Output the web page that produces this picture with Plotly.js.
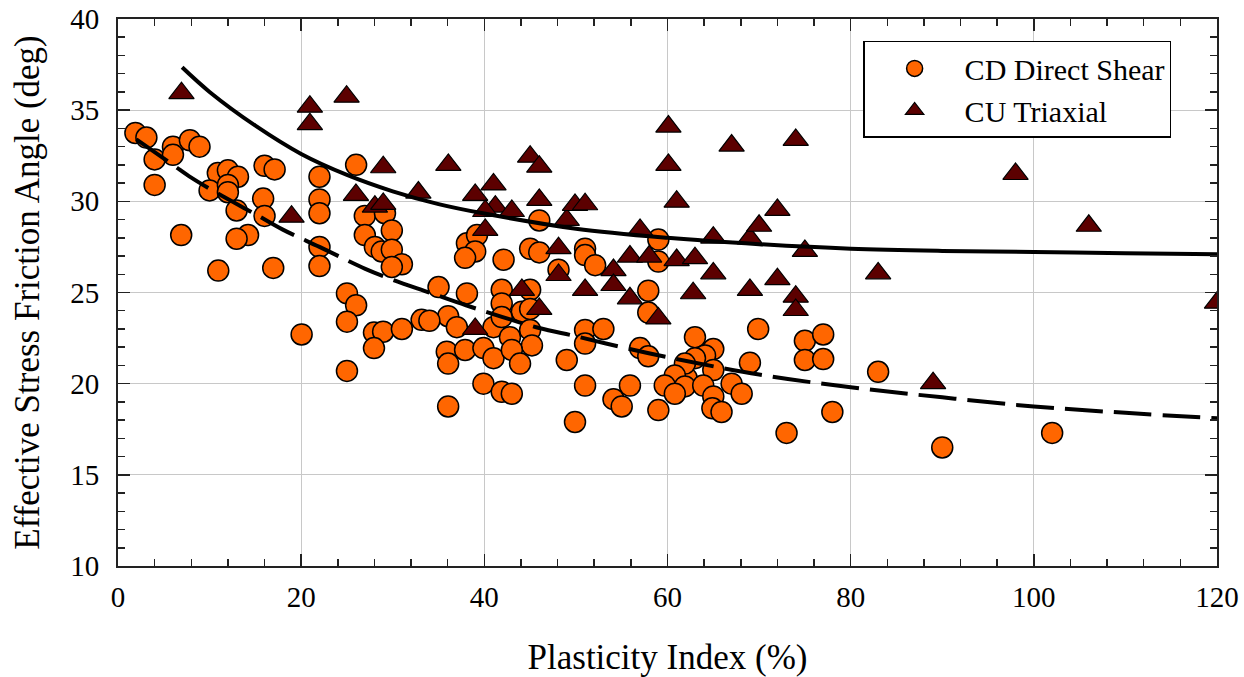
<!DOCTYPE html>
<html><head><meta charset="utf-8">
<script src="https://cdn.plot.ly/plotly-3.0.1.min.js"></script>
<style>body{margin:0;background:#fff}#chart{width:1244px;height:677px}</style>
</head><body><div id="chart"></div>
<script>
// CD Direct Shear: plasticity index (%) and effective friction angle (deg)
const cdPI = [1.9,3.1,4.0,4.0,6.0,6.0,7.85,8.9,6.9,10.9,12.0,13.1,10.0,12.0,12.0,12.95,14.2,12.95,10.95,16.0,17.1,15.85,16.0,16.95,
  22.0,22.0,22.0,22.0,22.0,25.0,26.0,26.95,29.15,26.95,29.9,28.05,28.8,29.9,31.0,29.9,26.0,25.0,20.05,27.95,28.95,27.95,31.0,25.0,33.15,
  35.0,38.1,39.2,39.0,37.9,42.1,46.0,45.0,46.0,48.1,51.0,51.0,52.1,59.0,59.0,57.9,57.9,38.1,41.9,45.0,41.9,44.1,36.05,34.0,37.0,41.0,41.9,
  42.8,45.0,45.2,35.9,36.05,37.9,39.9,41.0,43.0,43.9,49.0,51.0,51.0,53.0,57.0,57.9,39.9,41.9,43.0,51.0,54.1,55.0,55.9,59.0,36.05,49.9,
  45.0,62.1,63.0,65.0,64.1,63.0,61.9,65.0,60.8,59.7,61.9,63.9,60.8,65.0,67.0,68.1,64.9,65.9,69.0,69.9,75.0,77.0,75.0,77.0,78.0,73.0,
  83.0,90.0,102.0];
const cdPhi = [33.75,33.5,32.3,30.9,33.0,32.55,33.35,33.0,28.15,31.55,31.7,31.35,30.6,30.9,30.5,29.5,28.15,27.95,26.2,31.95,31.75,30.15,29.2,26.35,
  31.35,30.1,29.35,27.5,26.45,24.95,32.0,29.2,29.35,28.15,28.4,27.5,27.25,27.35,26.55,26.4,24.3,23.4,22.7,22.8,22.85,21.95,23.0,20.7,23.5,
  25.3,27.7,28.15,27.25,26.9,26.8,28.95,27.4,27.2,26.25,27.4,27.05,26.5,27.9,26.7,25.1,23.9,24.95,25.15,25.15,24.4,23.95,23.7,23.45,23.1,23.1,23.65,
  22.55,22.95,22.1,21.75,21.1,21.85,21.95,21.4,21.85,21.1,21.3,22.95,22.2,23.0,21.95,21.5,20.0,19.55,19.45,19.9,19.15,18.75,19.9,18.55,18.75,17.9,
  24.1,20.3,22.55,21.9,21.55,21.4,21.1,20.75,20.45,19.9,19.85,19.9,19.45,19.3,20.0,19.45,18.65,18.45,21.15,23.0,22.35,22.7,21.3,21.35,18.45,17.3,
  20.65,16.5,17.3];

// CU Triaxial
const cuPI = [6.93,20.95,20.95,24.96,18.95,28.96,25.98,28.05,28.96,32.8,36.07,39.0,41.0,41.2,40.1,40.1,43.0,45.0,46.0,46.0,49.0,49.9,51.0,
  48.1,48.1,44.1,46.0,39.0,51.0,54.1,54.1,55.9,57.0,55.9,58.0,59.0,60.1,60.1,61.0,61.0,62.8,67.0,74.0,65.0,69.0,70.0,72.0,75.0,63.0,65.0,
  69.0,72.0,74.0,74.0,83.0,89.0,98.0,106.0,120.0];
const cuPhi = [35.93,35.19,34.23,35.74,29.16,31.87,30.35,29.71,29.86,30.48,32.0,30.35,30.93,29.71,29.47,28.43,29.47,32.45,31.9,30.08,28.98,29.8,29.84,
  27.43,25.96,25.14,24.1,23.0,25.14,26.23,25.41,24.68,28.43,26.97,26.97,23.58,34.1,32.0,29.98,26.78,24.96,33.06,33.37,28.01,27.97,28.66,29.53,27.28,26.88,26.05,
  25.14,25.73,24.77,24.04,26.05,20.03,31.5,28.66,24.44];

// Trend curves
const cuFitPI  = [7,10,15,20,25,30,35,40,50,60,70,80,90,100,110,120];
const cuFitPhi = [37.35,36.0,34.15,32.6,31.45,30.55,29.85,29.33,28.5,28.0,27.65,27.4,27.28,27.22,27.15,27.1];
const cdFitPI  = [2,6,8,11,15,18,22,27,30,34,38,42,46,50,55,60,70,80,90,100,110,120];
const cdFitPhi = [33.4,32.0,31.3,30.4,29.3,28.45,27.5,26.3,25.7,25.0,24.3,23.65,23.05,22.6,22.0,21.45,20.5,19.8,19.25,18.75,18.4,18.1];

const xTicks = [0,20,40,60,80,100,120];
const yTicks = [10,15,20,25,30,35,40];

const FONT = '"Liberation Serif", "Times New Roman", Times, serif';

const traces = [
  {x: cdPI, y: cdPhi, type:'scatter', mode:'markers', name:'CD Direct Shear',
   marker:{symbol:'circle', size:21, color:'#FF6600', line:{color:'#000', width:1.5}}},
  {x: cuPI, y: cuPhi, type:'scatter', mode:'markers', name:'CU Triaxial',
   marker:{symbol:'triangle-up', size:22, color:'#5C0000', line:{color:'#000', width:1.2}}},
  {x: cdFitPI, y: cdFitPhi, type:'scatter', mode:'lines', showlegend:false, hoverinfo:'skip',
   line:{color:'#000', width:4, shape:'spline', dash:'38px,11px'}},
  {x: cuFitPI, y: cuFitPhi, type:'scatter', mode:'lines', showlegend:false, hoverinfo:'skip',
   line:{color:'#000', width:4, shape:'spline'}}
];

const axisCommon = {
  showline:true, linecolor:'#222', linewidth:2, mirror:'allticks',
  ticks:'inside', ticklen:12, tickwidth:1.5, tickcolor:'#222',
  showgrid:true, gridcolor:'#c8c8c8', gridwidth:1, zeroline:false,
  tickfont:{family:FONT, size:29, color:'#000'}
};

const layout = {
  width:1244, height:677,
  margin:{l:118, r:27, t:19, b:111},
  paper_bgcolor:'#fff', plot_bgcolor:'#fff',
  font:{family:FONT, color:'#000'},
  showlegend:true,
  xaxis: Object.assign({}, axisCommon, {
    range:[0,120], tickmode:'array', tickvals:xTicks, ticktext:xTicks.map(String),
    ticklabelstandoff:4,
    minor:{dtick:4, tick0:0, ticks:'inside', ticklen:7, tickwidth:1.5, tickcolor:'#222', showgrid:false},
    title:{text:'Plasticity Index (%)', font:{family:FONT, size:35, color:'#000'}, standoff:34}
  }),
  yaxis: Object.assign({}, axisCommon, {
    range:[10,40], tickmode:'array', tickvals:yTicks, ticktext:yTicks.map(String),
    ticklabelstandoff:11,
    minor:{dtick:1, tick0:0, ticks:'inside', ticklen:7, tickwidth:1.5, tickcolor:'#222', showgrid:false},
    title:{text:'Effective Stress Friction Angle (deg)', font:{family:FONT, size:35, color:'#000'}, standoff:20}
  }),
  legend:{x:0.678, y:0.960, xanchor:'left', yanchor:'top', bgcolor:'#fff',
    bordercolor:'#000', borderwidth:1.5, font:{family:FONT, size:30, color:'#000'},
    itemwidth:90, entrywidth:221, entrywidthmode:'pixels'}
};

Plotly.newPlot('chart', traces, layout, {displayModeBar:false, staticPlot:true});
</script>
</body></html>
